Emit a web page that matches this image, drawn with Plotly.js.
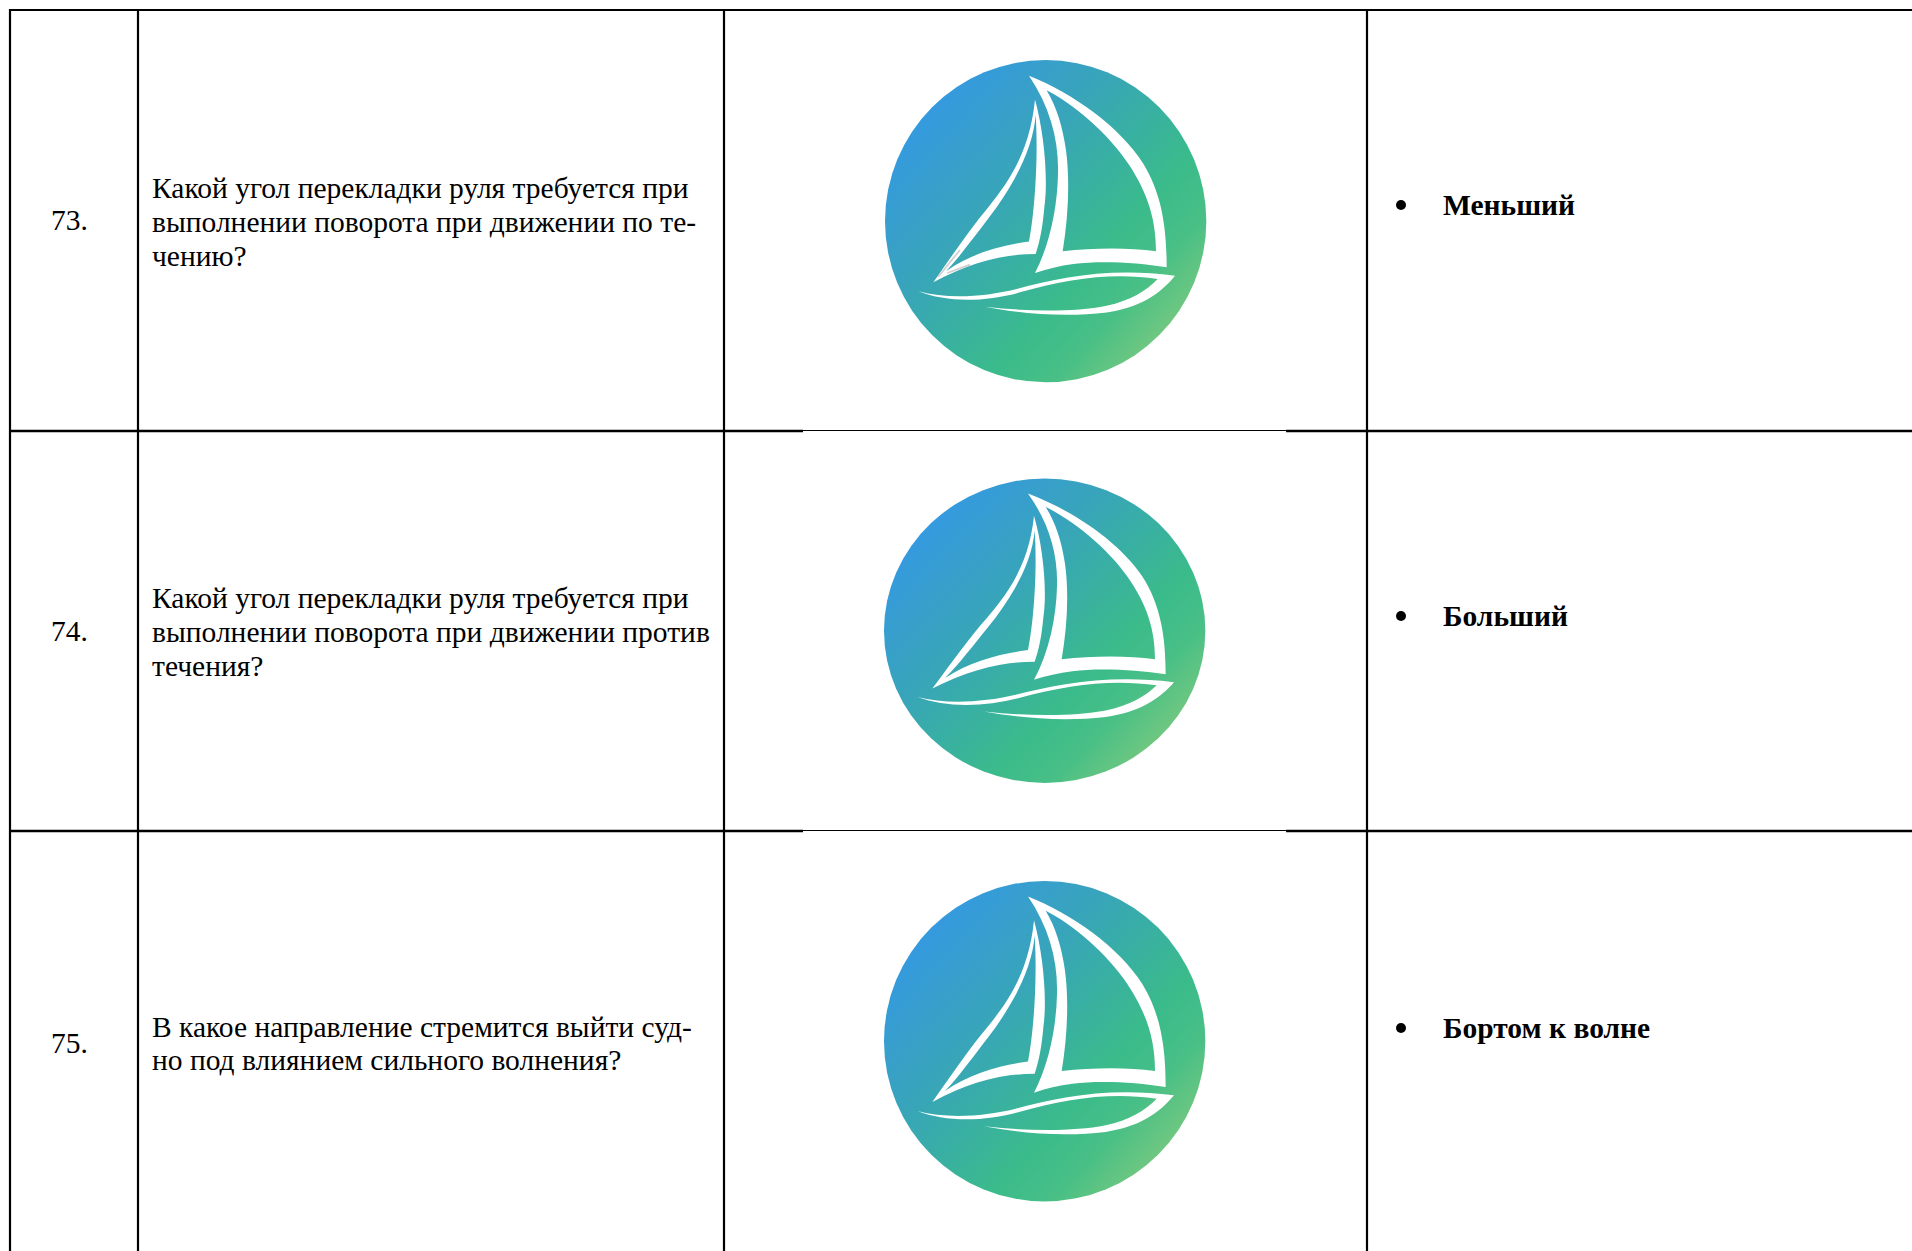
<!DOCTYPE html>
<html lang="ru">
<head>
<meta charset="utf-8">
<title>Таблица 73–75</title>
<script src="https://cdn.plot.ly/plotly-3.0.1.min.js"></script>
<style>html,body{margin:0;padding:0;background:#fff;overflow:hidden}</style>
</head>
<body>
<div id="chart" style="width:1912px;height:1251px"></div>
<script>
// ---- table content ----
const rowNumbers = ["73.", "74.", "75."];
const questionLines = [
  ["Какой угол перекладки руля требуется при", "выполнении поворота при движении по те-", "чению?"],
  ["Какой угол перекладки руля требуется при", "выполнении поворота при движении против", "течения?"],
  ["В какое направление стремится выйти суд-", "но под влиянием сильного волнения?"]
];
const answers = ["Меньший", "Больший", "Бортом к волне"];

// ---- layout constants (page pixels) ----
const W = 1912, H = 1251;
const colEdges = [10, 138, 724, 1367];
const rowEdges = [10, 431, 831];
const numberX = 69.5, numberY = [219.5, 630.5, 1042.5];
const questionX = 152;
const questionY = [[187.5, 221.5, 255.5], [597.5, 631.5, 665.5], [1026.5, 1059.5]];
const bulletX = 1401, answerX = 1443, answerY = [205, 616, 1028], answerTextY = [205, 616, 1028];
const logoBoxes = [
  {x: 860, y: 40,  w: 360, h: 361, blur: 0.8, tip: true},
  {x: 859, y: 459.6, w: 360, h: 341, blur: 1.8, tip: false},
  {x: 859, y: 861, w: 360, h: 359, blur: 1.8, tip: false}
];

function logoSvg(box) {
  const sails =
    "M507,107 C640,160 780,260 850,370 C905,460 920,560 920,680 C830,665 720,660 640,670 C600,675 560,685 525,697 C570,610 592,500 594,400 C597,300 570,200 507,107 Z " +
    "M560,150 C640,190 745,280 805,370 C865,460 888,540 888,632 C800,620 700,622 608,632 C625,530 630,420 618,330 C608,260 590,200 560,150 Z " +
    "M525,178 C553,280 565,420 553,500 C548,560 540,600 527,640 C430,640 330,665 220,725 C280,640 330,565 385,500 C450,420 510,330 525,178 Z " +
    "M527,225 C520,310 480,400 410,500 C380,540 350,580 320,618 C300,645 280,668 258,692 C330,640 420,615 507,603 C525,510 535,350 527,225 Z";
  const hull =
    "M175,752 C260,775 370,770 470,745 C600,710 750,680 945,705 C900,760 840,800 740,815 C620,830 490,820 375,798 C500,812 640,815 740,795 C810,780 860,750 893,715 C760,695 630,712 480,755 C370,785 260,785 175,752 Z";
  const tip = box.tip
    ? '<path d="M300,628 L235,708 M330,672 L262,697" stroke="#cfcfcf" stroke-width="5" fill="none"/>'
    : '';
  const svg =
    '<svg xmlns="http://www.w3.org/2000/svg" width="1080" height="1080" viewBox="0 0 1080 1080">' +
    '<defs><linearGradient id="g" gradientUnits="userSpaceOnUse" x1="170" y1="210" x2="930" y2="900">' +
    '<stop offset="0" stop-color="#3599e2"/><stop offset="0.32" stop-color="#38a4bb"/>' +
    '<stop offset="0.68" stop-color="#3abb8b"/><stop offset="0.82" stop-color="#47bf86"/>' +
    '<stop offset="1" stop-color="#78c97f"/></linearGradient>' +
    '<filter id="b" x="-5%" y="-5%" width="110%" height="110%"><feGaussianBlur stdDeviation="' + box.blur + '"/></filter></defs>' +
    '<g filter="url(#b)"><circle cx="557" cy="542" r="482" fill="url(#g)"/>' +
    '<path d="' + sails + '" fill="#fff" fill-rule="evenodd"/>' +
    '<path d="' + hull + '" fill="#fff"/>' + tip + '</g></svg>';
  return "data:image/svg+xml;charset=utf-8," + encodeURIComponent(svg);
}

const hLine = (x0, x1, y, width) => ({
  type: "line", xref: "x", yref: "y", x0, x1, y0: y, y1: y,
  line: {color: "#000", width}, layer: "above"
});
const vLine = (x, y0, y1) => ({
  type: "line", xref: "x", yref: "y", x0: x, x1: x, y0, y1,
  line: {color: "#000", width: 2.2}, layer: "above"
});

const shapes = [
  ...colEdges.map(x => vLine(x, rowEdges[0] - 1, H)),
  hLine(colEdges[0] - 1, W, rowEdges[0], 2.2),
  hLine(colEdges[0] - 1, 803, rowEdges[1], 2.5),
  hLine(803, 1286, rowEdges[1] - 0.5, 1),
  hLine(1286, W, rowEdges[1], 2.5),
  hLine(colEdges[0] - 1, 803, rowEdges[2], 2.5),
  hLine(803, 1286, rowEdges[2] - 0.5, 1),
  hLine(1286, W, rowEdges[2], 2.5)
];

const annotations = [];
const serif = "Liberation Serif, Times New Roman, serif";
function addText(text, x, y, anchor, bold) {
  annotations.push({
    text: bold ? "<b>" + text + "</b>" : text,
    x, y, xref: "x", yref: "y",
    xanchor: anchor, yanchor: "middle",
    showarrow: false, align: anchor,
    borderpad: 0, borderwidth: 0,
    font: {family: serif, size: 29.5, color: "#000"}
  });
}
rowNumbers.forEach((t, i) => addText(t, numberX, numberY[i], "center", false));
questionLines.forEach((lines, i) =>
  lines.forEach((t, j) => addText(t, questionX, questionY[i][j], "left", false)));
answers.forEach((t, i) => addText(t, answerX, answerTextY[i], "left", true));

const bullets = {
  type: "scatter", mode: "markers",
  x: answers.map(() => bulletX), y: answerY,
  marker: {size: 10, color: "#000", line: {width: 0}},
  hoverinfo: "skip", showlegend: false
};

const layout = {
  width: W, height: H,
  margin: {l: 0, r: 0, t: 0, b: 0, pad: 0},
  paper_bgcolor: "#fff", plot_bgcolor: "#fff",
  showlegend: false,
  xaxis: {range: [0, W], visible: false, fixedrange: true},
  yaxis: {range: [H, 0], visible: false, fixedrange: true},
  shapes, annotations,
  images: logoBoxes.map(b => ({
    source: logoSvg(b), xref: "x", yref: "y",
    x: b.x, y: b.y, sizex: b.w, sizey: b.h,
    xanchor: "left", yanchor: "top", sizing: "stretch", layer: "below"
  }))
};

Plotly.newPlot("chart", [bullets], layout, {displayModeBar: false, staticPlot: true});
</script>
</body>
</html>
